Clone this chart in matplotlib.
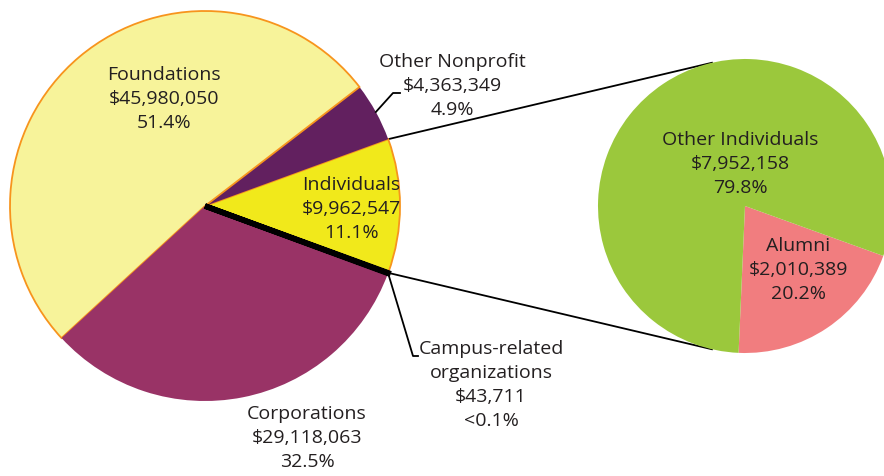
import numpy as np
import matplotlib
matplotlib.use("Agg")
import matplotlib.pyplot as plt

plt.rcParams['font.family'] = ['Open Sans', 'DejaVu Sans']

# main pie, counterclockwise from the Individuals slice
labels = ["Individuals", "Other Nonprofit", "Foundations", "Corporations", "Campus-related\norganizations"]
amounts = [9962547, 4363349, 45980050, 29118063, 43711]
pcts = ["11.1%", "4.9%", "51.4%", "32.5%", "<0.1%"]
colors = ["#f1e91b", "#62205f", "#f7f39a", "#993366", "#000000"]

# breakdown of Individuals
sub_labels = ["Alumni", "Other Individuals"]
sub_amounts = [2010389, 7952158]
sub_pcts = ["20.2%", "79.8%"]
sub_colors = ["#f17d7f", "#9bc83c"]

W, H = 884, 476
fig = plt.figure(figsize=(W / 100, H / 100), dpi=100)
ax = fig.add_axes([0, 0, 1, 1])

c1 = (205, H - 206)
r1 = 195
c2 = (745, H - 206)
r2 = 147
txt = "#231f20"
orange = "#f7941d"

ind_frac = amounts[0] / sum(amounts)
start1 = -ind_frac * 180
wedges, _ = ax.pie(amounts, colors=colors, center=c1, radius=r1,
                   startangle=start1, counterclock=True, frame=True,
                   wedgeprops=dict(linewidth=0))
wedges[0].set_edgecolor(orange)
wedges[0].set_linewidth(1.3)
wedges[2].set_edgecolor(orange)
wedges[2].set_linewidth(1.3)
wedges[4].set_edgecolor("black")
wedges[4].set_linewidth(4)

start2 = -92.5
sw, _ = ax.pie(sub_amounts, colors=sub_colors, center=c2, radius=r2,
               startangle=start2, counterclock=True, frame=True,
               wedgeprops=dict(linewidth=0))

# connector lines between the two pies
a_top = np.deg2rad(start1 + ind_frac * 360)
a_bot = np.deg2rad(start1)
b_top = np.deg2rad(103)
b_bot = np.deg2rad(-103)
for a, b in [(a_top, b_top), (a_bot, b_bot)]:
    ax.plot([c1[0] + r1 * np.cos(a), c2[0] + r2 * np.cos(b)],
            [c1[1] + r1 * np.sin(a), c2[1] + r2 * np.sin(b)],
            color="black", lw=1.3, zorder=0)

fs = 14


def label(x, y, s):
    ax.text(x, H - y, s, ha="center", va="center", fontsize=fs,
            color=txt, linespacing=1.42)


def fmt(i):
    return "${:,}".format(amounts[i])


label(164, 99, f"{labels[2]}\n{fmt(2)}\n{pcts[2]}")
label(452, 86, f"{labels[1]}\n{fmt(1)}\n{pcts[1]}")
label(351, 209, f"{labels[0]}\n{fmt(0)}\n{pcts[0]}")
label(307, 438, f"{labels[3]}\n{fmt(3)}\n{pcts[3]}")
label(491, 385, f"{labels[4]}\n{fmt(4)}\n{pcts[4]}")
label(740, 164, "{}\n${:,}\n{}".format(sub_labels[1], sub_amounts[1], sub_pcts[1]))
label(798, 270, "{}\n${:,}\n{}".format(sub_labels[0], sub_amounts[0], sub_pcts[0]))

# leader lines
m1 = np.deg2rad(start1 + (amounts[0] + amounts[1] / 2) / sum(amounts) * 360)
p = (c1[0] + r1 * np.cos(m1), c1[1] + r1 * np.sin(m1))
ax.plot([p[0], 393, 400], [p[1], H - 93, H - 93], color="black", lw=1.3)
m4 = np.deg2rad(start1 - 0.1)
p = (c1[0] + r1 * np.cos(m4), c1[1] + r1 * np.sin(m4))
ax.plot([p[0], 413, 418], [p[1], H - 356, H - 356], color="black", lw=1.3)

ax.set_xlim(0, W)
ax.set_ylim(0, H)
ax.set_aspect("equal")
ax.axis("off")

fig.savefig("out.png", dpi=100)
